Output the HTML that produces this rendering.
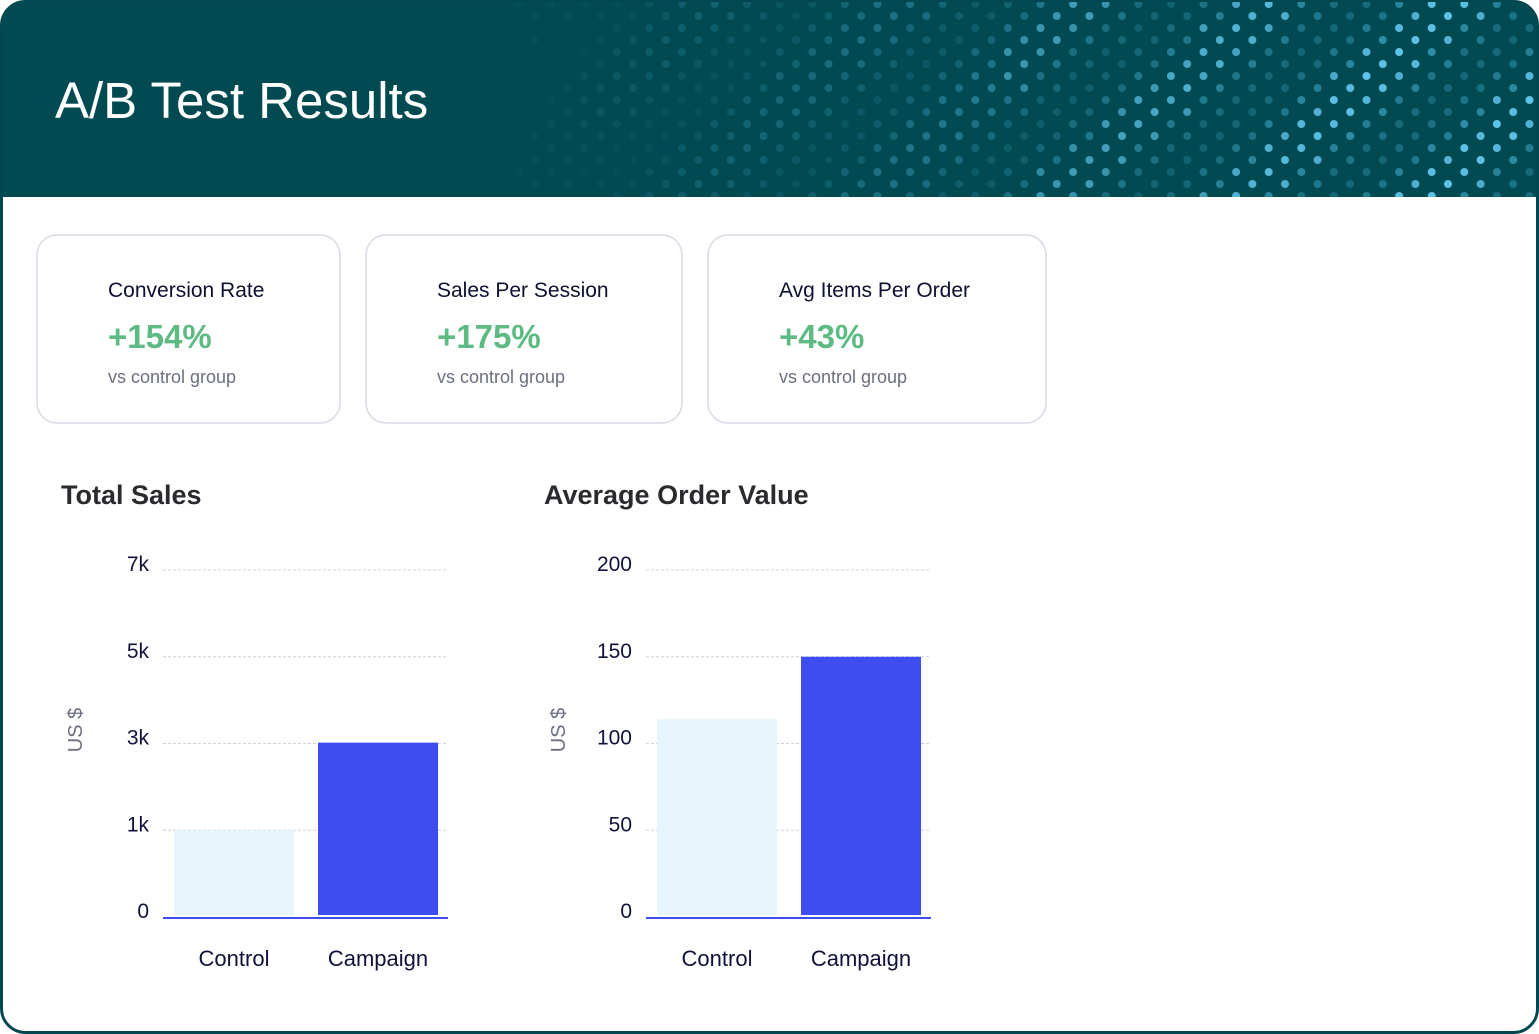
<!DOCTYPE html>
<html><head><meta charset="utf-8"><style>
html,body{margin:0;padding:0;background:#fff;}
svg{display:block;font-family:"Liberation Sans",sans-serif;}
</style></head><body>
<svg id="page" width="1539" height="1034" viewBox="0 0 1539 1034" xmlns="http://www.w3.org/2000/svg">
<defs><clipPath id="hc"><path d="M2 197 V26 A24 24 0 0 1 26 2 H1513 A24 24 0 0 1 1537 26 V197 Z"/></clipPath></defs>
<rect x="1.5" y="1.5" width="1536" height="1031" rx="24" fill="#fff" stroke="#02474f" stroke-width="3"/>
<g clip-path="url(#hc)">
<rect x="0" y="0" width="1539" height="198" fill="#024a52"/>
<g id="dots"></g>
</g>
<text x="55" y="118" font-size="51" fill="#fff">A/B Test Results</text>

<g>
<rect x="37" y="235" width="303" height="188" rx="20" fill="#fff" stroke="#d8d9e3" stroke-width="1.5"/>
<text x="108" y="297" font-size="21" fill="#0d1030">Conversion Rate</text>
<text x="108" y="348" font-size="33" fill="#5cba82" font-weight="bold">+154%</text>
<text x="108" y="383" font-size="18" fill="#6b6f80">vs control group</text></g>
<g>
<rect x="366" y="235" width="316" height="188" rx="20" fill="#fff" stroke="#d8d9e3" stroke-width="1.5"/>
<text x="437" y="297" font-size="21" fill="#0d1030">Sales Per Session</text>
<text x="437" y="348" font-size="33" fill="#5cba82" font-weight="bold">+175%</text>
<text x="437" y="383" font-size="18" fill="#6b6f80">vs control group</text></g>
<g>
<rect x="708" y="235" width="338" height="188" rx="20" fill="#fff" stroke="#d8d9e3" stroke-width="1.5"/>
<text x="779" y="297" font-size="21" fill="#0d1030">Avg Items Per Order</text>
<text x="779" y="348" font-size="33" fill="#5cba82" font-weight="bold">+43%</text>
<text x="779" y="383" font-size="18" fill="#6b6f80">vs control group</text></g>

<text x="61" y="504" font-size="27" font-weight="bold" fill="#2a2b2e">Total Sales</text>
<text x="544" y="504" font-size="27" font-weight="bold" fill="#2a2b2e">Average Order Value</text>
<g id="chart1"></g>
<g id="chart2"></g>
</svg>
<script>
const NS="http://www.w3.org/2000/svg";
function mk(p,tag,a){const e=document.createElementNS(NS,tag);for(const k in a)e.setAttribute(k,a[k]);p.appendChild(e);return e;}
// decorative dots
const dg=document.getElementById('dots');
for(let c=0;c<70;c++){const x=470+c*16.3;const t=(x-470)/1070;
 for(let r=0;r<10;r++){const y=(c%2?4:16)+r*24;
  const w=0.5+0.5*Math.sin(c*0.55+r*0.9);
  const op=Math.min(1,t*1.2)*(0.35+0.65*w);
  if(op<0.05)continue;
  const d=mk(dg,'circle',{cx:x,cy:y,r:4,fill:w>0.7&&t>0.5?'#5ec3ea':'#3aa0c0','fill-opacity':op.toFixed(2)});
  
  
 }}

// chart data
const categories=["Control","Campaign"];
const salesValues=[1000,3020];
const salesTicks=[0,1000,3000,5000,7000];
const salesTickLabels=["0","1k","3k","5k","7k"];
const aovValues=[114,150];
const aovTicks=[0,50,100,150,200];
const aovTickLabels=["0","50","100","150","200"];
const barColors=["#e6f4fb","#3f4cef"];

function drawChart(id,x0,values,ticks,labels){
 const g=document.getElementById(id);
 const base=917,step=86.75,x1=x0+285;
 function yScale(v){for(let i=0;i<ticks.length-1;i++){if(v<=ticks[i+1]){return base-(i+(v-ticks[i])/(ticks[i+1]-ticks[i]))*step;}}return base-(ticks.length-1)*step;}
 ticks.forEach((t,i)=>{const y=yScale(t);
  if(i>0){const l=mk(g,'line',{x1:x0,x2:x1,y1:y,y2:y,stroke:'#cfd0da','stroke-dasharray':'3 2','stroke-width':1});
   
   }
  const tx=mk(g,'text',{x:x0-14,y:y+1,'font-size':21,fill:'#10123a','text-anchor':'end'});tx.textContent=labels[i];
  
  
 });
 const bw=120,gap=24,start=x0+11;
 values.forEach((v,i)=>{const bx=start+i*(bw+gap);const y=yScale(v);
  const b=mk(g,'rect',{x:bx,y:y,width:bw,height:base-2-y,fill:barColors[i]});
  
  
  const lt=mk(g,'text',{x:bx+bw/2,y:966,'font-size':22,fill:'#10123a','text-anchor':'middle'});lt.textContent=categories[i];
  
  
 });
 const ax=mk(g,'line',{x1:x0,x2:x1,y1:base+1,y2:base+1,stroke:'#3f4cef','stroke-width':2});
 
 
 const yt=mk(g,'text',{x:0,y:0,'font-size':20,fill:'#6b6f80','text-anchor':'middle',transform:'translate('+(x0-81)+',730) rotate(-90)'});yt.textContent='US $';
 
 
}
drawChart('chart1',163,salesValues,salesTicks,salesTickLabels);
drawChart('chart2',646,aovValues,aovTicks,aovTickLabels);
</script>
</body></html>
